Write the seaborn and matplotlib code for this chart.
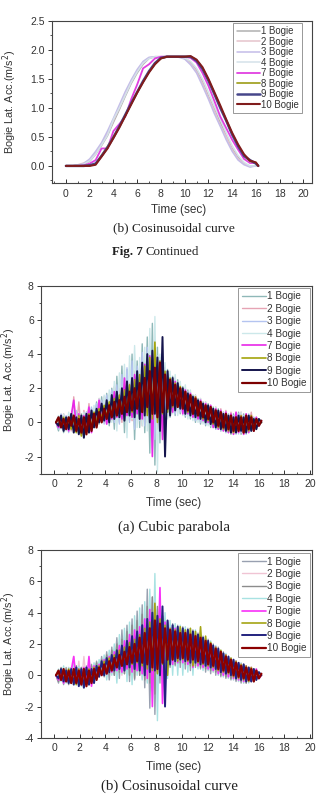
import numpy as np
import pandas as pd
import matplotlib
matplotlib.use("Agg")
import matplotlib.pyplot as plt
from matplotlib.ticker import MultipleLocator, FormatStrFormatter
import seaborn as sns

# bogie names shown in every legend
bogies = ['1 Bogie', '2 Bogie', '3 Bogie', '4 Bogie', '7 Bogie', '8 Bogie', '9 Bogie', '10 Bogie']

# ---- top panel: smooth lateral acc, cosinusoidal curve (read every 0.5 s) ----
t_smooth = [0, 0.5, 1, 1.5, 2, 2.5, 3, 3.5, 4, 4.5, 5, 5.5, 6, 6.5, 7, 7.5, 8, 8.5,
            9, 9.5, 10, 10.5, 11, 11.5, 12, 12.5, 13, 13.5, 14, 14.5, 15, 15.5, 16, 16.2]
s1 = [0, 0, 0.01, 0.03, 0.08, 0.2, 0.35, 0.52, 0.75, 0.97, 1.2, 1.42, 1.6, 1.75, 1.85, 1.88, 1.88,
      1.88, 1.88, 1.88, 1.86, 1.78, 1.65, 1.45, 1.2, 0.98, 0.75, 0.52, 0.3, 0.15, 0.05, -0.01, 0.0, 0.0]
s2 = [0, 0, 0.02, 0.05, 0.1, 0.22, 0.38, 0.55, 0.78, 1.0, 1.23, 1.45, 1.63, 1.78, 1.86, 1.88, 1.88,
      1.88, 1.88, 1.88, 1.85, 1.76, 1.62, 1.42, 1.18, 0.95, 0.7, 0.5, 0.28, 0.12, 0.03, 0.0, 0.0, 0.0]
s3 = [0, 0, 0.01, 0.04, 0.12, 0.25, 0.4, 0.6, 0.82, 1.05, 1.28, 1.48, 1.66, 1.8, 1.87, 1.88, 1.88,
      1.88, 1.88, 1.87, 1.84, 1.74, 1.6, 1.38, 1.15, 0.9, 0.68, 0.45, 0.25, 0.1, 0.02, -0.02, 0.0, 0.0]
s4 = [0, 0, 0.01, 0.03, 0.09, 0.2, 0.36, 0.53, 0.8, 1.0, 1.22, 1.44, 1.62, 1.77, 1.85, 1.88, 1.88,
      1.88, 1.88, 1.88, 1.86, 1.8, 1.68, 1.5, 1.27, 1.03, 0.8, 0.57, 0.35, 0.18, 0.06, 0.0, 0.0, 0.0]
s7 = [0, 0, 0, 0.01, 0.04, 0.1, 0.3, 0.3, 0.6, 0.72, 0.85, 1.15, 1.4, 1.68, 1.75, 1.85, 1.88,
      1.88, 1.88, 1.88, 1.88, 1.86, 1.78, 1.6, 1.38, 1.12, 0.85, 0.65, 0.45, 0.28, 0.12, 0.05, 0.05, 0.0]
s8 = [0, 0, 0, 0, 0.01, 0.03, 0.18, 0.33, 0.5, 0.68, 0.87, 1.07, 1.27, 1.45, 1.62, 1.76, 1.85,
      1.88, 1.88, 1.88, 1.88, 1.88, 1.82, 1.68, 1.48, 1.25, 1.02, 0.78, 0.55, 0.35, 0.18, 0.08, 0.05, 0.0]
s9 = [0, 0, 0, 0, 0.01, 0.04, 0.17, 0.32, 0.49, 0.68, 0.88, 1.08, 1.27, 1.46, 1.63, 1.77, 1.86,
      1.88, 1.88, 1.88, 1.88, 1.88, 1.81, 1.67, 1.47, 1.24, 1.0, 0.78, 0.54, 0.34, 0.17, 0.1, 0.04, 0.0]
s10 = [0, 0, 0, 0, 0.0, 0.02, 0.16, 0.3, 0.48, 0.66, 0.86, 1.06, 1.26, 1.44, 1.61, 1.75, 1.85,
       1.88, 1.88, 1.88, 1.88, 1.89, 1.83, 1.7, 1.5, 1.27, 1.04, 0.8, 0.57, 0.37, 0.2, 0.09, 0.06, 0.0]

# ---- noisy panels: one value every 0.2 s from 0.15 s to 16.2 s (82 samples) ----
t_noisy = np.linspace(0.15, 16.2, 82)

# (a) cubic parabola
a1 = [0, -0.5, 0.4, -0.6, 0.3, -0.4, 0.5, -0.5, 0.6, -0.4,
      0.5, -0.8, 0.6, -0.5, 0.8, -0.3, 1.2, -0.1, 1.5, 0.0,
      1.7, -0.2, 2.0, -0.4, 2.7, 0.0, 3.3, -0.6, 3.1, 0.1,
      4.0, -1.0, 3.6, -0.3, 4.6, -0.6, 5.0, -1.8, 5.8, -2.5,
      4.4, -1.2, 3.4, 0.0, 3.1, 0.3, 2.7, 0.4, 2.5, 0.5,
      2.1, 0.3, 1.9, 0.2, 1.6, 0.0, 1.4, -0.1, 1.2, -0.2,
      1.1, -0.3, 0.9, -0.4, 0.8, -0.5, 0.6, -0.6, 0.5, -0.7,
      0.5, -0.6, 0.6, -0.7, 0.5, -0.6, 0.4, -0.5, 0.3, -0.4,
      0.2, 0.0]
a2 = [0, 0.3, -0.3, 0.5, -0.4, 0.4, -0.5, 1.5, -0.4, 1.2,
      -0.6, 0.7, -0.3, 1.1, -0.4, 0.8, -0.1, 1.4, 0.2, 1.5,
      0.0, 1.6, 0.1, 2.1, 0.2, 2.0, 0.0, 2.6, 0.3, 2.3,
      0.1, 3.0, 0.4, 3.2, -0.2, 3.6, 0.0, 4.1, -0.6, 4.6,
      -0.4, 3.8, 0.0, 3.2, 0.3, 2.8, 0.6, 2.6, 0.6, 2.2,
      0.6, 2.0, 0.5, 1.8, 0.3, 1.6, 0.2, 1.4, 0.0, 1.2,
      -0.1, 1.0, -0.2, 0.9, -0.4, 0.8, -0.5, 0.7, -0.6, 0.6,
      -0.7, 0.5, -0.6, 0.6, -0.7, 0.5, -0.5, 0.6, -0.4, 0.3,
      -0.2, 0.0]
a3 = [0, -0.4, 0.5, -0.3, 0.4, -0.6, 0.3, -0.4, 0.7, -0.5,
      0.4, -0.7, 0.6, -0.4, 0.9, -0.2, 1.1, 0.0, 1.3, -0.1,
      1.6, 0.1, 1.9, 0.0, 2.2, -0.1, 2.8, 0.2, 3.2, 0.0,
      3.6, -0.4, 3.3, 0.1, 4.1, -0.2, 4.4, 0.0, 4.0, -1.0,
      3.9, -0.3, 3.3, 0.2, 2.9, 0.4, 2.6, 0.5, 2.3, 0.6,
      2.0, 0.4, 1.8, 0.3, 1.5, 0.1, 1.3, 0.0, 1.1, -0.1,
      1.0, -0.2, 0.8, -0.4, 0.7, -0.5, 0.6, -0.6, 0.5, -0.6,
      0.4, -0.7, 0.5, -0.6, 0.4, -0.7, 0.5, -0.5, 0.3, -0.4,
      0.2, 0.0]
a4 = [0, 0.4, -0.4, 0.5, -0.5, 0.6, -0.3, 0.7, -0.6, 0.5,
      -0.7, 0.6, -0.5, 0.9, -0.4, 1.0, -0.2, 1.4, 0.0, 1.6,
      -0.1, 1.9, 0.0, 2.4, -0.5, 2.9, 0.3, 3.4, -0.9, 3.9,
      0.2, 4.5, -0.3, 3.8, -0.2, 4.4, -0.5, 5.5, -1.5, 6.2,
      -2.9, 4.0, -0.8, 3.5, 0.2, 3.0, 0.5, 2.8, 0.4, 2.4,
      0.4, 2.2, 0.2, 1.9, 0.1, 1.6, 0.0, 1.4, -0.1, 1.2,
      -0.2, 1.0, -0.3, 0.9, -0.4, 0.7, -0.5, 0.6, -0.6, 0.5,
      -0.6, 0.5, -0.7, 0.6, -0.6, 0.5, -0.6, 0.4, -0.5, 0.3,
      -0.2, 0.0]
a7 = [0, -0.3, 0.3, -0.4, 0.2, -0.5, 0.4, 1.3, -0.3, 0.5,
      -0.7, 0.4, -0.4, 0.9, -0.6, 0.5, -0.2, 1.3, 0.1, 0.9,
      -0.1, 1.1, 0.2, 1.8, 0.3, 1.4, 0.2, 2.6, 0.4, 1.7,
      0.3, 2.8, 0.5, 2.4, 0.2, 3.4, 0.6, 3.9, -2.0, 4.3,
      0.6, 3.2, -1.0, 2.9, 0.9, 2.4, 0.6, 2.4, 1.0, 1.9,
      0.5, 1.9, 0.5, 1.7, 0.3, 1.5, 0.2, 1.3, 0.1, 1.1,
      0.0, 1.0, -0.3, 0.8, -0.4, 0.7, -0.5, 0.6, -0.6, 0.5,
      -0.7, 0.6, -0.6, 0.4, -0.7, 0.5, -0.6, 0.4, -0.5, 0.3,
      -0.2, 0.1]
a8 = [0, 0.2, -0.2, 0.3, -0.3, 0.2, -0.4, 0.3, -0.6, 0.4,
      -0.8, 0.2, -0.5, 0.5, -0.3, 0.6, 0.0, 0.8, 0.2, 1.0,
      0.3, 1.2, 0.4, 1.4, 0.5, 1.6, 0.6, 1.9, 0.7, 2.2,
      0.6, 2.5, 0.8, 2.8, 0.7, 3.3, 0.4, 3.8, 0.2, 4.7,
      0.0, 3.6, 0.5, 3.0, 0.6, 2.6, 0.9, 2.3, 0.9, 2.1,
      0.8, 1.8, 0.6, 1.6, 0.5, 1.5, 0.4, 1.2, 0.2, 1.0,
      0.1, 0.9, -0.1, 0.7, -0.3, 0.6, -0.4, 0.5, -0.5, 0.4,
      -0.6, 0.3, -0.5, 0.4, -0.6, 0.3, -0.5, 0.4, -0.4, 0.2,
      -0.1, 0.0]
a9 = [0, -0.2, 0.4, -0.5, 0.3, -0.4, 0.5, -0.6, 0.3, -0.7,
      0.4, -0.9, 0.5, -0.6, 0.7, -0.3, 0.8, 0.0, 1.1, 0.1,
      1.3, 0.0, 1.6, 0.2, 1.8, 0.3, 2.0, 0.1, 2.4, 0.4,
      2.6, 0.3, 3.0, 0.2, 3.5, 0.4, 4.0, 0.0, 4.2, 0.5,
      3.8, -0.5, 5.0, -2.0, 3.0, 0.4, 2.6, 0.7, 2.3, 0.8,
      2.0, 0.5, 1.7, 0.4, 1.5, 0.3, 1.3, 0.2, 1.1, 0.0,
      1.0, -0.1, 0.8, -0.3, 0.7, -0.4, 0.5, -0.5, 0.4, -0.6,
      0.3, -0.6, 0.4, -0.5, 0.3, -0.6, 0.4, -0.5, 0.2, -0.4,
      0.2, 0.0]
a10 = [0, 0.3, -0.3, 0.2, -0.4, 0.3, -0.2, 0.4, -0.5, 0.2,
       -0.6, 0.3, -0.7, 0.4, -0.5, 0.5, -0.3, 0.6, 0.0, 0.8,
       0.2, 1.0, 0.3, 1.2, 0.4, 1.3, 0.5, 1.5, 0.6, 1.8,
       0.7, 2.0, 0.8, 2.3, 0.6, 2.6, 0.9, 3.0, 0.5, 3.2,
       0.3, 3.5, 0.6, 2.8, 0.8, 2.5, 1.0, 2.2, 0.9, 2.0,
       0.8, 1.8, 0.7, 1.6, 0.5, 1.4, 0.4, 1.2, 0.3, 1.0,
       0.2, 0.9, 0.0, 0.7, -0.2, 0.6, -0.3, 0.5, -0.4, 0.4,
       -0.5, 0.3, -0.5, 0.3, -0.6, 0.4, -0.4, 0.3, -0.5, 0.2,
       -0.2, 0.1]

# (b) cosinusoidal curve
b1 = [0, -0.5, 0.4, -0.6, 0.5, -0.3, 0.5, -0.5, 0.6, -0.4,
      0.5, -0.7, 0.6, -0.6, 0.7, -0.4, 0.9, -0.1, 1.2, 0.0,
      1.5, -0.3, 1.8, 0.0, 2.4, -0.2, 2.9, 0.1, 3.2, -0.4,
      3.6, -0.3, 4.1, 0.0, 4.5, -0.8, 5.5, -2.1, 5.0, -2.5,
      4.2, -0.5, 3.8, 0.3, 3.5, 0.5, 3.3, 0.6, 3.2, 0.5,
      3.1, 0.4, 3.0, 0.3, 2.9, 0.5, 2.7, 0.4, 2.5, 0.2,
      2.3, 0.1, 2.0, 0.0, 1.8, -0.1, 1.5, -0.2, 1.2, -0.3,
      1.0, -0.4, 0.8, -0.5, 0.7, -0.5, 0.5, -0.4, 0.4, -0.3,
      0.2, 0.0]
b2 = [0, 0.3, -0.3, 0.4, -0.4, 0.5, -0.5, 1.2, -0.5, 0.9,
      -0.6, 1.2, -0.4, 0.7, -0.5, 0.6, -0.2, 0.8, 0.1, 1.1,
      -0.1, 1.4, 0.1, 1.7, 0.2, 2.1, 0.0, 2.4, 0.3, 2.7,
      0.0, 3.1, 0.2, 3.4, -0.2, 3.8, -0.4, 4.3, -0.8, 4.6,
      -0.5, 4.2, 0.2, 3.6, 0.4, 3.2, 0.6, 3.0, 0.7, 3.0,
      0.6, 2.9, 0.5, 2.8, 0.4, 2.7, 0.5, 2.5, 0.4, 2.3,
      0.3, 2.1, 0.2, 1.8, 0.0, 1.5, -0.1, 1.3, -0.2, 1.1,
      -0.3, 0.9, -0.4, 0.7, -0.5, 0.6, -0.4, 0.5, -0.3, 0.4,
      -0.2, 0.0]
b3 = [0, -0.4, 0.5, -0.3, 0.4, -0.6, 0.3, -0.5, 0.6, -0.4,
      0.5, -0.7, 0.4, -0.6, 0.6, -0.3, 0.8, 0.0, 1.0, -0.1,
      1.3, 0.1, 1.6, 0.0, 2.0, 0.2, 2.3, 0.1, 2.8, 0.0,
      3.2, -0.2, 3.5, 0.0, 3.9, -0.3, 4.4, -0.5, 5.0, -1.2,
      4.4, 0.0, 3.8, 0.4, 3.4, 0.6, 3.2, 0.7, 3.1, 0.8,
      3.0, 0.7, 2.9, 0.6, 2.8, 0.6, 2.6, 0.5, 2.4, 0.4,
      2.1, 0.3, 1.9, 0.2, 1.6, 0.0, 1.4, -0.1, 1.1, -0.2,
      0.9, -0.3, 0.8, -0.4, 0.6, -0.5, 0.5, -0.4, 0.4, -0.3,
      0.2, 0.0]
b4 = [0, 0.4, -0.4, 0.6, -0.5, 0.5, -0.4, 0.7, -0.6, 0.6,
      -0.7, 0.5, -0.5, 0.6, -0.6, 0.8, -0.2, 1.0, 0.0, 1.3,
      -0.3, 1.6, 0.0, 2.0, -0.5, 2.6, 0.1, 3.0, -0.4, 3.4,
      -0.6, 3.8, 0.0, 4.3, -0.3, 4.7, -0.5, 5.5, -1.0, 6.5,
      -2.9, 4.6, 0.0, 4.0, -0.2, 3.5, 0.0, 3.3, 0.0, 3.2,
      0.0, 3.1, 0.2, 3.0, 0.0, 2.9, 0.4, 2.6, 0.3, 2.4,
      0.3, 2.2, 0.2, 1.9, 0.0, 1.6, -0.1, 1.4, -0.2, 1.1,
      -0.3, 0.9, -0.4, 0.8, -0.5, 0.6, -0.5, 0.5, -0.4, 0.4,
      -0.2, 0.0]
b7 = [0, -0.3, 0.3, -0.5, 0.2, -0.4, 0.3, 1.2, -0.4, 0.4,
      -0.6, 0.5, -0.5, 1.2, -0.7, 0.6, -0.2, 0.7, 0.0, 1.0,
      0.1, 1.2, 0.2, 1.5, 0.3, 1.9, 0.2, 2.2, 0.4, 2.6,
      0.2, 2.9, 0.3, 3.1, 0.1, 3.6, -0.2, 4.2, -2.0, 4.0,
      0.2, 5.6, -1.8, 3.4, 0.6, 3.0, 0.7, 3.0, 0.8, 2.8,
      0.8, 2.8, 0.7, 2.7, 0.5, 2.6, 0.6, 2.4, 0.5, 2.3,
      0.4, 2.0, 0.3, 1.8, 0.1, 1.5, 0.0, 1.3, -0.1, 1.0,
      -0.2, 0.9, -0.3, 0.7, -0.4, 0.6, -0.4, 0.5, -0.3, 0.4,
      -0.2, 0.0]
b8 = [0, 0.2, -0.3, 0.3, -0.2, 0.4, -0.4, 0.3, -0.6, 0.4,
      -0.5, 0.3, -0.6, 0.4, -0.4, 0.5, -0.2, 0.6, 0.1, 0.9,
      0.2, 1.1, 0.4, 1.3, 0.5, 1.6, 0.6, 1.8, 0.8, 2.1,
      0.7, 2.3, 0.8, 2.6, 0.6, 3.0, 0.4, 3.4, 0.3, 4.6,
      0.1, 3.6, 0.7, 3.2, 0.0, 3.0, 1.0, 2.9, 0.9, 3.1,
      1.0, 2.9, 0.9, 3.0, 0.6, 2.8, 0.8, 3.1, 0.7, 2.5,
      0.6, 2.1, 0.5, 1.8, 0.3, 1.6, 0.2, 1.3, 0.1, 1.1,
      -0.1, 0.9, -0.2, 0.7, -0.3, 0.6, -0.4, 0.5, -0.3, 0.3,
      -0.1, 0.0]
b9 = [0, -0.2, 0.4, -0.4, 0.3, -0.5, 0.4, -0.6, 0.5, -0.7,
      0.4, -0.8, 0.5, -0.6, 0.4, -0.5, 0.6, -0.1, 0.9, 0.0,
      1.1, 0.2, 1.3, 0.3, 1.6, 0.4, 1.9, 0.3, 2.2, 0.5,
      2.5, 0.4, 2.8, 0.3, 3.2, 0.0, 3.6, 0.2, 4.0, 0.3,
      3.8, 0.0, 4.4, -2.0, 3.5, 0.7, 3.2, 0.9, 3.1, 1.0,
      3.0, 0.9, 2.9, 0.8, 2.8, 0.8, 2.6, 0.7, 2.4, 0.6,
      2.2, 0.5, 1.9, 0.4, 1.7, 0.2, 1.4, 0.1, 1.2, 0.0,
      1.0, -0.2, 0.8, -0.3, 0.7, -0.4, 0.5, -0.4, 0.4, -0.3,
      0.2, 0.0]
b10 = [0, 0.3, -0.3, 0.4, -0.4, 0.3, -0.5, 0.4, -0.5, 0.3,
       -0.6, 0.4, -0.7, 0.3, -0.5, 0.4, -0.3, 0.5, 0.0, 0.7,
       0.1, 0.9, 0.3, 1.1, 0.5, 1.3, 0.6, 1.5, 0.7, 1.8,
       0.8, 2.0, 0.9, 2.4, 0.8, 2.7, 0.7, 3.0, 0.5, 3.5,
       0.4, 3.3, 0.8, 3.0, 1.0, 2.9, 1.0, 2.8, 1.1, 2.7,
       1.1, 2.7, 1.0, 2.6, 1.0, 2.5, 0.9, 2.4, 0.8, 2.2,
       0.7, 2.0, 0.6, 1.7, 0.4, 1.5, 0.3, 1.2, 0.2, 1.0,
       0.0, 0.8, -0.1, 0.6, -0.2, 0.5, -0.3, 0.4, -0.4, 0.3,
       -0.2, 0.1]

pal_top = ['#b0b0b0', '#e6c4cc', '#c4bce8', '#d4e2ea', '#e040e0', '#a4a428', '#46468a', '#801c1c']
pal_a = ['#8fb8b8', '#e6a4b4', '#b4c4f0', '#cce8ea', '#e828e8', '#a4a40c', '#14144c', '#7c0000']
pal_b = ['#98a0b0', '#f0c4d4', '#8c8c8c', '#a8e2e2', '#f830f8', '#a4a414', '#22227e', '#8c0000']

lw_top = [1.1, 1.1, 1.1, 1.1, 1.3, 1.3, 1.8, 1.5]
lw_noisy = [1.0, 1.0, 1.0, 1.0, 1.2, 1.2, 1.4, 1.6]


def long_df(t, series):
    parts = [pd.DataFrame({'t': t, 'acc': v, 'bogie': name}) for name, v in zip(bogies, series)]
    return pd.concat(parts, ignore_index=True)


sns.set_theme(style='ticks')
plt.rcParams['font.family'] = ['Liberation Sans', 'DejaVu Sans']
plt.rcParams['axes.linewidth'] = 0.8
txt = '#333333'

fig = plt.figure(figsize=(3.21, 7.96), dpi=100)

panels = [
    # rect, df, palette, widths, xlim, ylim, ymajor, yminor, yfmt, legend anchor, legend font,
    # ylabel x, xlabel y, legend row spacing
    ([0.161, 0.7697, 0.810, 0.2043], long_df(t_smooth, [s1, s2, s3, s4, s7, s8, s9, s10]),
     pal_top, lw_top, (-1.2, 20.7), (-0.3, 2.5), 0.5, 0.25, '%.1f', (0.963, 0.986), 6.9,
     -0.125, -0.127, 0.05),
    ([0.127, 0.405, 0.844, 0.236], long_df(t_noisy, [a1, a2, a3, a4, a7, a8, a9, a10]),
     pal_a, lw_noisy, (-1.04, 20.13), (-3, 8), 2, 1, '%d', (0.994, 0.989), 7.2,
     -0.084, -0.127, 0.24),
    ([0.127, 0.073, 0.844, 0.236], long_df(t_noisy, [b1, b2, b3, b4, b7, b8, b9, b10]),
     pal_b, lw_noisy, (-1.04, 20.13), (-4, 8), 2, 1, '%d', (0.994, 0.984), 7.2,
     -0.084, -0.122, 0.24),
]

for rect, df, pal, lws, xl, yl, ymaj, ymin, yfmt, anchor, lfs, ylx, xly, lsp in panels:
    ax = fig.add_axes(rect)
    sns.lineplot(data=df, x='t', y='acc', hue='bogie', hue_order=bogies,
                 palette=dict(zip(bogies, pal)), size='bogie', size_order=bogies,
                 sizes=dict(zip(bogies, lws)), estimator=None, sort=False, ax=ax)
    ax.set_xlim(*xl)
    ax.set_ylim(*yl)
    ax.xaxis.set_major_locator(MultipleLocator(2))
    ax.xaxis.set_minor_locator(MultipleLocator(1))
    ax.yaxis.set_major_locator(MultipleLocator(ymaj))
    ax.yaxis.set_minor_locator(MultipleLocator(ymin))
    ax.yaxis.set_major_formatter(FormatStrFormatter(yfmt))
    # Origin style: x ticks point in, y ticks point out
    ax.tick_params(axis='x', which='major', direction='in', length=3, width=0.7,
                   labelsize=7.5, colors=txt, pad=4)
    ax.tick_params(axis='x', which='minor', direction='in', length=1.6, width=0.6, colors=txt)
    ax.tick_params(axis='y', which='major', direction='out', length=3, width=0.7,
                   labelsize=7.5, colors=txt, pad=2)
    ax.tick_params(axis='y', which='minor', direction='out', length=1.6, width=0.6, colors=txt)
    for sp in ax.spines.values():
        sp.set_color('#444444')
    ax.set_xlabel('Time (sec)', fontsize=8.5, color=txt)
    ax.set_ylabel('Bogie Lat. Acc.(m/s$^2$)', fontsize=7.8, color=txt)
    ax.xaxis.set_label_coords(0.49, xly)
    ax.yaxis.set_label_coords(ylx, 0.5)
    handles, labels = ax.get_legend_handles_labels()
    leg = ax.legend(handles, labels, loc='upper right', bbox_to_anchor=anchor, borderaxespad=0,
                    fontsize=lfs, frameon=True, fancybox=False, framealpha=1,
                    handlelength=2.4, handletextpad=0.15, labelspacing=lsp,
                    borderpad=0.35)
    leg.get_frame().set_edgecolor('#888888')
    leg.get_frame().set_linewidth(0.6)
    for t in leg.get_texts():
        t.set_color(txt)

serif = ['Liberation Serif', 'DejaVu Serif']
fig.text(174 / 321, 1 - 228 / 796, '(b) Cosinusoidal curve', ha='center', va='center',
         fontsize=9.6, family=serif, color='#222222')
fig.text(143 / 321, 1 - 252 / 796, 'Fig. 7', ha='right', va='center', fontsize=9.3,
         family=serif, weight='bold', color='#222222')
fig.text(146 / 321, 1 - 252 / 796, 'Continued', ha='left', va='center', fontsize=9.3,
         family=serif, color='#222222')
fig.text(174 / 321, 1 - 527 / 796, '(a) Cubic parabola', ha='center', va='center',
         fontsize=10.8, family=serif, color='#222222')
fig.text(170 / 321, 1 - 786 / 796, '(b) Cosinusoidal curve', ha='center', va='center',
         fontsize=10.8, family=serif, color='#222222')

fig.savefig('out.png', dpi=100)
